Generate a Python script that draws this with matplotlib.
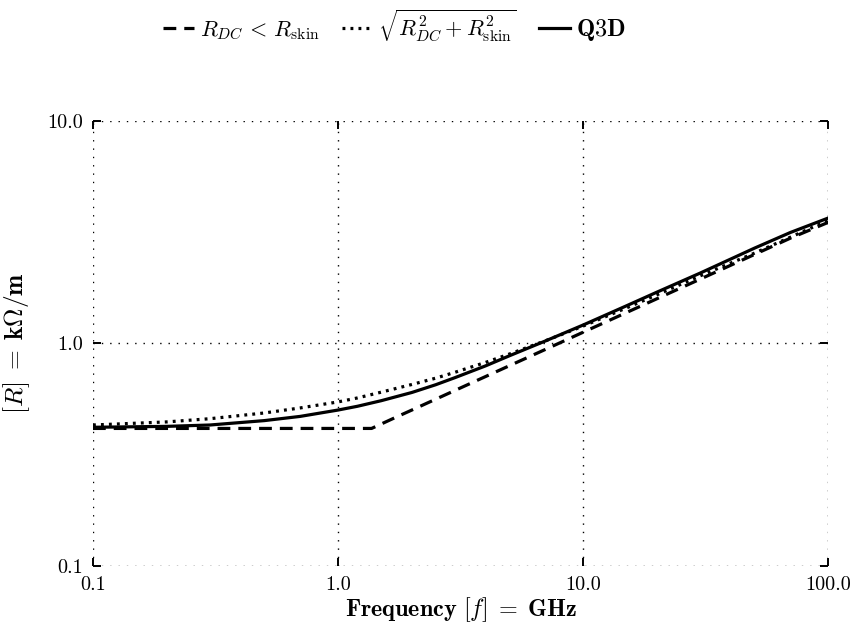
import matplotlib
matplotlib.use("Agg")
import matplotlib.pyplot as plt
from matplotlib.ticker import FixedLocator, FuncFormatter, NullLocator

plt.rcParams['font.family'] = ['cmr10', 'DejaVu Serif']
plt.rcParams['mathtext.fontset'] = 'cm'
plt.rcParams['axes.unicode_minus'] = False
plt.rcParams['axes.formatter.use_mathtext'] = True

freq_dashed = [0.1, 0.2, 0.5, 1.0, 1.37, 1.7, 2.0, 3.0, 5.0, 7.0, 10.0, 20.0, 30.0, 50.0, 70.0, 100.0]
r_dashed = [0.415, 0.415, 0.415, 0.415, 0.415, 0.463, 0.502, 0.615, 0.794, 0.939, 1.123, 1.588, 1.944, 2.510, 2.970, 3.50]

freq_dotted = [0.1, 0.2, 0.3, 0.5, 0.7, 1.0, 1.2, 1.5, 2.0, 2.5, 3.0, 4.0, 5.0, 7.0, 10.0, 15.0, 20.0, 30.0, 50.0, 70.0, 100.0]
r_dotted = [0.430, 0.444, 0.459, 0.487, 0.513, 0.546, 0.569, 0.604, 0.654, 0.698, 0.742, 0.822, 0.896, 1.027, 1.197, 1.443, 1.654, 2.012, 2.545, 3.000, 3.574]

freq_q3d = [0.1, 0.2, 0.3, 0.5, 0.7, 1.0, 1.2, 1.5, 2.0, 2.5, 3.0, 4.0, 5.0, 7.0, 10.0, 15.0, 20.0, 30.0, 50.0, 70.0, 100.0]
r_q3d = [0.420, 0.424, 0.430, 0.450, 0.470, 0.502, 0.522, 0.553, 0.602, 0.652, 0.702, 0.793, 0.880, 1.025, 1.210, 1.475, 1.700, 2.070, 2.680, 3.150, 3.660]

x_ticks = [0.1, 1.0, 10.0, 100.0]
y_ticks = [0.1, 1.0, 10.0]

fig = plt.figure(figsize=(8.53, 6.23), dpi=100)
ax = fig.add_axes([0.109, 0.0915, 0.862, 0.7145])

l1, = ax.plot(freq_dashed, r_dashed, color='black', lw=2.3, linestyle=(0, (4.0, 2.5)),
              label=r'$R_{DC}\,<\,R_{\mathrm{skin}}$')
l2, = ax.plot(freq_dotted, r_dotted, color='black', lw=2.3, linestyle=(0, (0.9, 1.6)),
              label=r'$\sqrt{R_{DC}^2 + R_{\mathrm{skin}}^2}$')
l3, = ax.plot(freq_q3d, r_q3d, color='black', lw=2.3, linestyle='-',
              label=r'$\mathbf{Q3D}$')

ax.set_xscale('log')
ax.set_yscale('log')
ax.set_xlim(0.1, 100)
ax.set_ylim(0.1, 10)
ax.xaxis.set_major_locator(FixedLocator(x_ticks))
ax.yaxis.set_major_locator(FixedLocator(y_ticks))
ax.xaxis.set_minor_locator(NullLocator())
ax.yaxis.set_minor_locator(NullLocator())
fmt = FuncFormatter(lambda v, p: f"{v:.1f}")
ax.xaxis.set_major_formatter(fmt)
ax.yaxis.set_major_formatter(fmt)

for s in ax.spines.values():
    s.set_visible(False)
ax.tick_params(which='major', direction='in', length=6, width=1.4,
               top=True, right=True, labelsize=14.5, pad=7)
ax.grid(True, which='major', color='black', linestyle=(0, (1, 5)), lw=1)

xl = ax.set_xlabel(r'$\mathbf{Frequency}\ [f]\;=\;\mathbf{GHz}$', fontsize=17.5)
yl = ax.set_ylabel(r'$[R]\;=\;\mathbf{k\Omega/m}$', fontsize=17.5)

# scale the label fonts so they span about the same length as in the reference
fig.canvas.draw()
rend = fig.canvas.get_renderer()
bx = xl.get_window_extent(rend)
xl.set_fontsize(xl.get_fontsize() * 232.0 / bx.width)
by = yl.get_window_extent(rend)
yl.set_fontsize(yl.get_fontsize() * 142.0 / by.height)
xl.set_verticalalignment('center')
ax.xaxis.set_label_coords(0.5, -0.098)
ax.yaxis.set_label_coords(-0.083, 0.5)

leg = fig.legend(handles=[l1, l2, l3], loc='center', bbox_to_anchor=(0.462, 0.958),
                 ncol=3, frameon=False, fontsize=16, handlelength=1.4,
                 handletextpad=0.25, columnspacing=1.0)
leg.get_texts()[2].set_fontsize(17.5)

fig.savefig('out.png', dpi=100)
